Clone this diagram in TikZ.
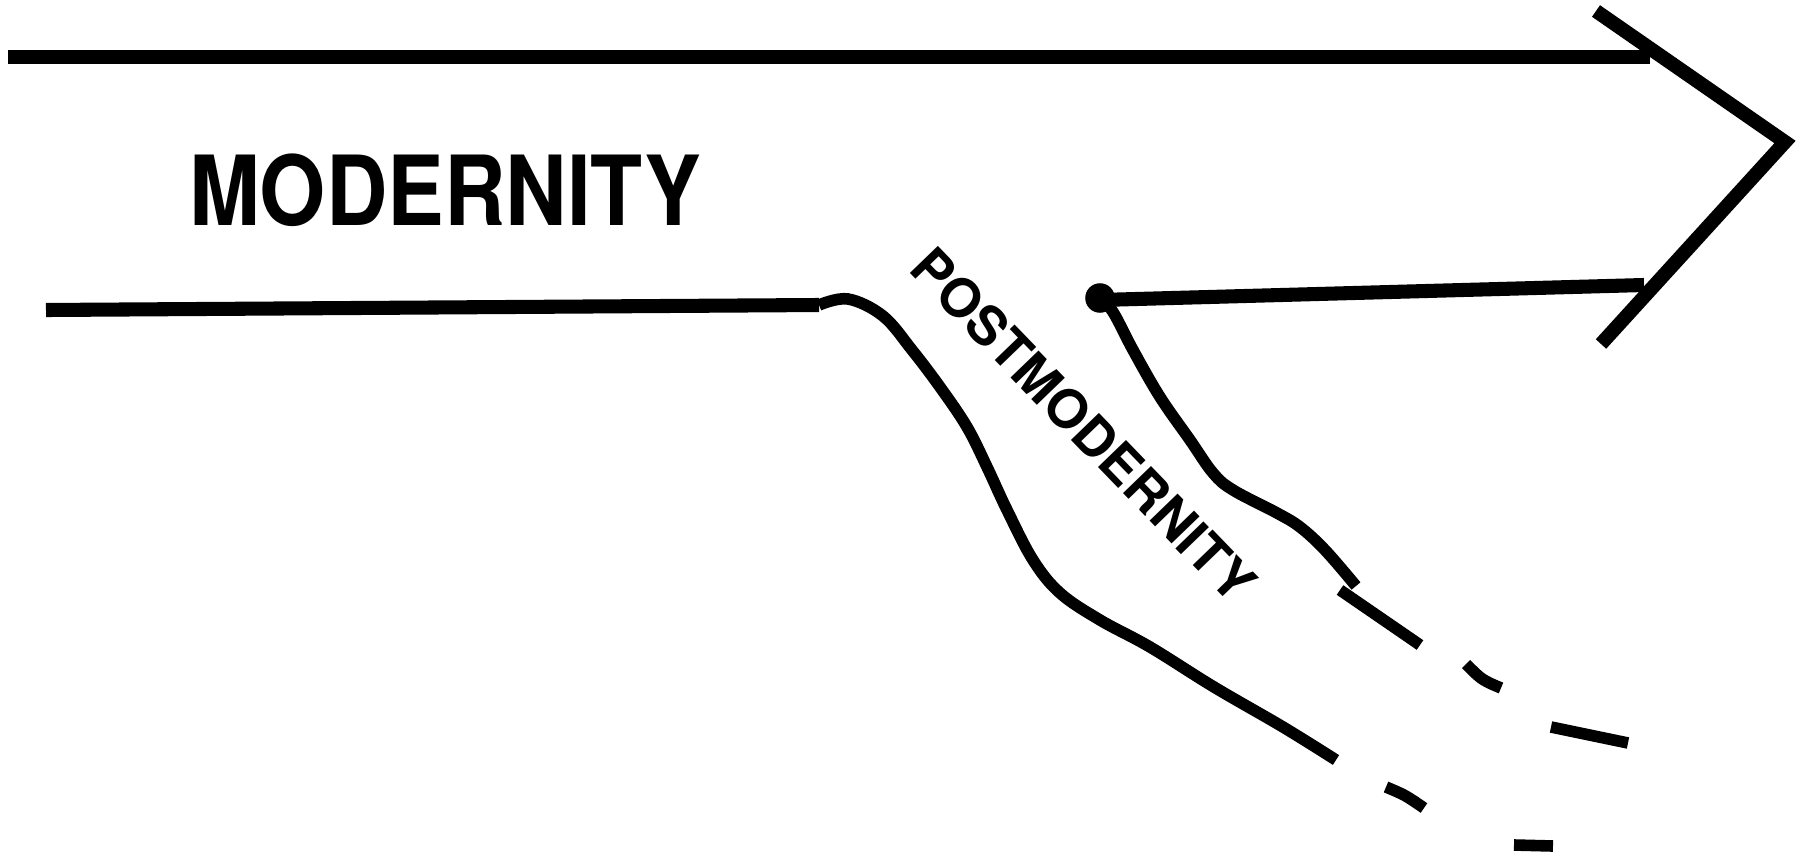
\documentclass[tikz,border=0pt]{standalone}
\usepackage{fontspec}
\setmainfont{TeX Gyre Heros}
\tikzset{
  edge/.style={line width=4pt},
  bank/.style={line width=3.3pt},
}
\begin{document}
\begin{tikzpicture}[x=0.01cm, y=-0.01cm]
    \useasboundingbox (0,0) rectangle (1796,854);

    % Labels
    \node[font=\bfseries\fontsize{27.5}{30}\selectfont, inner sep=0] (modern) at (445,190) {\scalebox{0.88}[1]{MODERNITY}};
    \node[font=\bfseries\fontsize{15.2}{18}\selectfont, inner sep=0, rotate=-46] (post) at (1084,425) {POSTMODERNITY};

    % Modernity arrow
    \draw[edge] (8,57) -- (1650,57);
    \draw[edge] (1596,11) -- (1785,142) -- (1601,344);
    \draw[edge] (46,310) -- (819,305);
    \draw[edge] (1100,300) -- (1644,285);
    \fill (1100,298) circle (4.2pt);

    % Postmodernity branch, left bank
    \draw[bank] plot[smooth, tension=0.6] coordinates {(819,305) (848,299) (883,316) (912,350) (940,387) (967,427) (987,467) (1007,510) (1033,560) (1060,593) (1100,620) (1150,647) (1214,687) (1283,727) (1336,760)};
    \draw[bank] (1386,787) .. controls (1405,795) .. (1424,808);
    \draw[bank] (1514,845) -- (1553,846);

    % Postmodernity branch, right bank
    \draw[bank] plot[smooth, tension=0.6] coordinates {(1100,298) (1113,312) (1133,350) (1160,397) (1190,440) (1213,473) (1233,490) (1277,513) (1300,527) (1325,550) (1356,586)};
    \draw[bank] (1340,590) -- (1420,645);
    \draw[bank] (1466,664) .. controls (1482,680) .. (1501,688);
    \draw[bank] (1551,727) -- (1628,743);
\end{tikzpicture}
\end{document}
